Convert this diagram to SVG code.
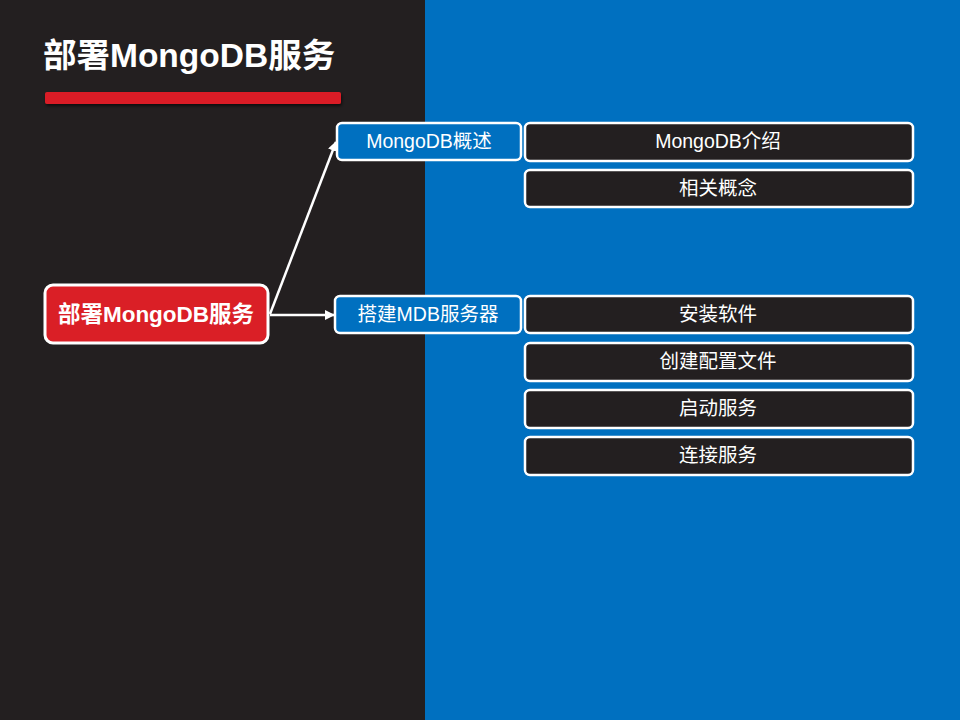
<svg xmlns="http://www.w3.org/2000/svg" width="960" height="720" viewBox="0 0 960 720">
<defs>
<style>
.t{font-family:"Liberation Sans","Noto Sans CJK SC",sans-serif;fill:#fff;text-anchor:middle;dominant-baseline:central}
.lvl1{fill:#0070c0;stroke:#fff;stroke-width:2.5}
.lvl2{fill:#231f20;stroke:#fff;stroke-width:2.5}
.conn{stroke:#fff;stroke-width:2.5;fill:none;marker-end:url(#ah)}
.s{font-size:19.5px}
</style>
<marker id="ah" viewBox="0 0 10 10" refX="9" refY="5" markerWidth="4" markerHeight="4" orient="auto" markerUnits="strokeWidth">
<path d="M0,0 L10,5 L0,10 z" fill="#fff"/>
</marker>
<filter id="sh" x="-5%" y="-50%" width="110%" height="250%">
<feDropShadow dx="1" dy="2" stdDeviation="1.5" flood-color="#000" flood-opacity="0.6"/>
</filter>
</defs>
<rect x="0" y="0" width="425" height="720" fill="#231f20"/>
<rect x="425" y="0" width="535" height="720" fill="#0070c0"/>
<g id="title">
<text x="43" y="55" class="t" style="text-anchor:start;font-size:33.5px;font-weight:bold">部署MongoDB服务</text>
<rect x="45" y="92" width="296" height="12" rx="2" fill="#da1f26" filter="url(#sh)"/>
</g>
<g id="connectors">
<path class="conn" d="M270,314 L336,142"/>
<path class="conn" d="M270,315 L334,315"/>
</g>
<g id="root">
<rect x="45" y="285" width="223" height="58" rx="8" fill="#da1f26" stroke="#fff" stroke-width="3"/>
<text x="156" y="314" class="t" style="font-size:22.5px;font-weight:bold">部署MongoDB服务</text>
</g>
<g id="n1">
<rect x="337" y="123" width="184" height="37" rx="5" class="lvl1"/>
<text x="429" y="141" class="t s">MongoDB概述</text>
</g>
<g id="n2">
<rect x="335" y="296" width="186" height="37" rx="5" class="lvl1"/>
<text x="428" y="314" class="t s">搭建MDB服务器</text>
</g>
<g id="n1a">
<rect x="525" y="123" width="388" height="38" rx="5" class="lvl2"/>
<text x="718" y="141" class="t s">MongoDB介绍</text>
</g>
<g id="n1b">
<rect x="525" y="170" width="388" height="37" rx="5" class="lvl2"/>
<text x="718" y="188" class="t s">相关概念</text>
</g>
<g id="n2a">
<rect x="525" y="296" width="388" height="37" rx="5" class="lvl2"/>
<text x="718" y="314" class="t s">安装软件</text>
</g>
<g id="n2b">
<rect x="525" y="343" width="388" height="38" rx="5" class="lvl2"/>
<text x="718" y="361" class="t s">创建配置文件</text>
</g>
<g id="n2c">
<rect x="525" y="390" width="388" height="38" rx="5" class="lvl2"/>
<text x="718" y="408" class="t s">启动服务</text>
</g>
<g id="n2d">
<rect x="525" y="437" width="388" height="38" rx="5" class="lvl2"/>
<text x="718" y="455" class="t s">连接服务</text>
</g>
</svg>
